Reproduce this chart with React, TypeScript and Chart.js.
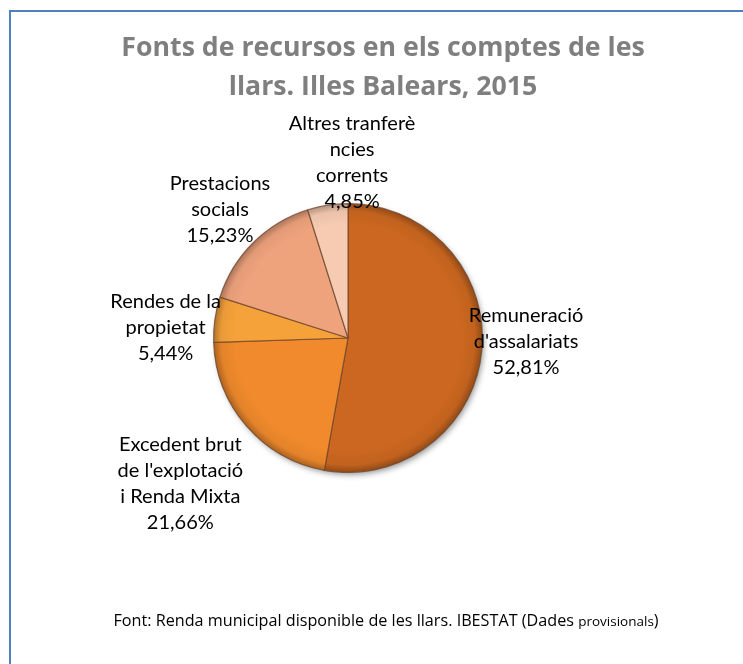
import { useEffect, useRef } from "react";
import { Chart, registerables } from "chart.js";

Chart.register(...registerables);

const categories = [
  "Remuneració d'assalariats",
  "Excedent brut de l'explotació i Renda Mixta",
  "Rendes de la propietat",
  "Prestacions socials",
  "Altres tranferències corrents",
];
const labelLines = [
  ["Remuneració", "d'assalariats"],
  ["Excedent brut", "de l'explotació", "i Renda Mixta"],
  ["Rendes de la", "propietat"],
  ["Prestacions", "socials"],
  ["Altres tranferè", "ncies", "corrents"],
];
const values = [52.81, 21.66, 5.44, 15.23, 4.85];
const titleLines = ["Fonts de recursos en els comptes de les", "llars. Illes Balears, 2015"];
const sourceMain = "Font: Renda municipal disponible de les llars. IBESTAT (Dades ";
const sourceSmall = "provisionals";
const sourceEnd = ")";

const sliceColors = ["#CB6720", "#F08A2C", "#F5A23A", "#EFA37D", "#F7CBB2"];
// label placement: radial factor and nudge (layout only)
const labelLayout = [
  { k: 1.33, dx: 0, dy: -12 },
  { k: 1.65, dx: 0, dy: 0 },
  { k: 1.37, dx: 0, dy: 15 },
  { k: 1.35, dx: 0, dy: 0 },
  { k: 1.32, dx: 31, dy: 0 },
];

function shade(hex: string, f: number) {
  const n = parseInt(hex.slice(1), 16);
  let r = (n >> 16) & 255, g = (n >> 8) & 255, b = n & 255;
  if (f < 0) {
    r = Math.round(r * (1 + f)); g = Math.round(g * (1 + f)); b = Math.round(b * (1 + f));
  } else {
    r = Math.round(r + (255 - r) * f); g = Math.round(g + (255 - g) * f); b = Math.round(b + (255 - b) * f);
  }
  return `rgb(${r},${g},${b})`;
}

const fmt = (v: number) => v.toFixed(2).replace(".", ",") + "%";

const decorPlugin = {
  id: "decor",
  beforeDatasetsDraw(chart: any) {
    const ctx = chart.ctx;
    const meta = chart.getDatasetMeta(0);
    const a = meta.data[0];
    if (!a) return;
    ctx.save();
    ctx.shadowColor = "rgba(0,0,0,0.45)";
    ctx.shadowBlur = 6;
    ctx.shadowOffsetX = 2;
    ctx.shadowOffsetY = 3;
    ctx.fillStyle = "#C06020";
    ctx.beginPath();
    ctx.arc(a.x, a.y, a.outerRadius - 1, 0, Math.PI * 2);
    ctx.fill();
    ctx.restore();
  },
  afterDraw(chart: any) {
    const ctx = chart.ctx;
    ctx.save();
    // frame
    ctx.fillStyle = "#4F81BD";
    ctx.fillRect(9, 10, 2, 654);
    ctx.fillRect(9, 10, 734, 2);
    // title
    ctx.fillStyle = "#7F7F7F";
    ctx.font = "bold 26.7px 'Open Sans'";
    ctx.textAlign = "center";
    ctx.textBaseline = "middle";
    titleLines.forEach((t, i) => ctx.fillText(t, 383, 48 + i * 39));
    // data labels
    const meta = chart.getDatasetMeta(0);
    ctx.fillStyle = "#000000";
    ctx.font = "20px Lato";
    meta.data.forEach((arc: any, i: number) => {
      const mid = (arc.startAngle + arc.endAngle) / 2;
      const L = labelLayout[i];
      const cx = arc.x + Math.cos(mid) * arc.outerRadius * L.k + L.dx;
      const cy = arc.y + Math.sin(mid) * arc.outerRadius * L.k + L.dy;
      const lines = [...labelLines[i], fmt(values[i])];
      const lh = 26;
      const y0 = cy - ((lines.length - 1) * lh) / 2;
      lines.forEach((t, j) => ctx.fillText(t, cx, y0 + j * lh));
    });
    // source
    ctx.textAlign = "left";
    ctx.textBaseline = "alphabetic";
    const big = "16.2px 'Open Sans'";
    const small = "13.5px 'Open Sans'";
    ctx.font = big;
    const w1 = ctx.measureText(sourceMain).width;
    ctx.font = small;
    const w2 = ctx.measureText(sourceSmall).width;
    ctx.font = big;
    const w3 = ctx.measureText(sourceEnd).width;
    let x = 386 - (w1 + w2 + w3) / 2;
    const by = 626;
    ctx.fillText(sourceMain, x, by);
    x += w1;
    ctx.font = small;
    ctx.fillText(sourceSmall, x, by);
    x += w2;
    ctx.font = big;
    ctx.fillText(sourceEnd, x, by);
    ctx.restore();
  },
};

export default function App() {
  const ref = useRef<HTMLCanvasElement>(null);
  useEffect(() => {
    if (!ref.current) return;
    const chart = new Chart(ref.current, {
      type: "pie",
      data: {
        labels: categories,
        datasets: [
          {
            data: values,
            backgroundColor: (c: any) => {
              const base = sliceColors[c.dataIndex];
              const ca = c.chart.chartArea;
              if (!ca) return base;
              const x = (ca.left + ca.right) / 2;
              const y = (ca.top + ca.bottom) / 2;
              const r = Math.min(ca.right - ca.left, ca.bottom - ca.top) / 2;
              const g = c.chart.ctx.createRadialGradient(x, y, 0, x, y, r);
              g.addColorStop(0, base);
              g.addColorStop(0.84, base);
              g.addColorStop(0.94, shade(base, -0.05));
              g.addColorStop(1, shade(base, -0.3));
              return g;
            },
            borderColor: "rgba(110,70,45,0.75)",
            borderWidth: 1.2,
          },
        ],
      },
      options: {
        responsive: false,
        animation: false,
        devicePixelRatio: 1,
        layout: { padding: { left: 213, right: 260, top: 203, bottom: 191 } },
        plugins: {
          legend: { display: false },
          title: { display: false },
          tooltip: { enabled: false },
        },
      },
      plugins: [decorPlugin],
    });
    return () => chart.destroy();
  }, []);
  return (
    <div style={{ position: "absolute", left: 0, top: 0, width: 743, height: 664, background: "#fff" }}>
      <canvas ref={ref} width={743} height={664} style={{ display: "block" }} />
    </div>
  );
}
